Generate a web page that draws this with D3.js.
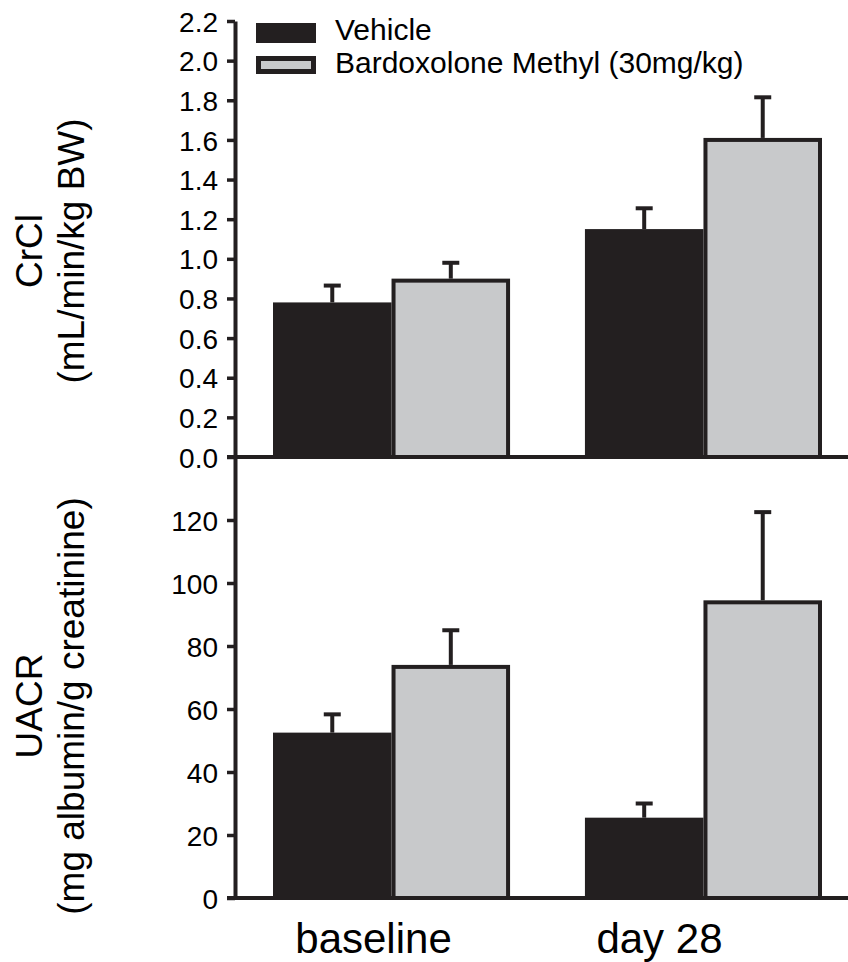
<!DOCTYPE html>
<html>
<head>
<meta charset="utf-8">
<script src="https://cdn.jsdelivr.net/npm/d3@7"></script>
<style>
	body { margin: 0; background: #fff; }
	text { font-family: Arial, "Liberation Sans", sans-serif; fill: #000; }
</style>
</head>
<body>
<div id="chart"></div>
<script>
	const groups = ['baseline', 'day 28'];
	const series = ['Vehicle', 'Bardoxolone Methyl (30mg/kg)'];

	// CrCl (mL/min/kg BW), mean and SEM
	const crclVehicle = [0.78, 1.15];
	const crclVehicleErr = [0.085, 0.105];
	const crclBardox = [0.90, 1.61];
	const crclBardoxErr = [0.08, 0.205];

	// UACR (mg albumin/g creatinine), mean and SEM
	const uacrVehicle = [52.5, 25.5];
	const uacrVehicleErr = [5.8, 4.5];
	const uacrBardox = [74, 94.5];
	const uacrBardoxErr = [11, 28];

	const crclTicks = [0, 0.2, 0.4, 0.6, 0.8, 1.0, 1.2, 1.4, 1.6, 1.8, 2.0, 2.2];
	const uacrTicks = [0, 20, 40, 60, 80, 100, 120];

	const width = 848, height = 962;
	const ink = '#231f20', grey = '#c8c9cb';
	const axisX = 235;

	const svg = d3.select('#chart')
		.append('svg')
		.attr('width', width)
		.attr('height', height);

	//x scales: groups, then the two series inside each group
	const xScale = d3.scaleBand()
		.domain(groups)
		.range([273, 822])
		.paddingInner(0.24)
		.paddingOuter(0);

	const xInner = d3.scaleBand()
		.domain(series)
		.range([0, xScale.bandwidth()]);

	//y scales for the two stacked panels
	const yTop = d3.scaleLinear().domain([0, 2.2]).range([457, 21]);
	const yBottom = d3.scaleLinear().domain([0, 140]).range([898, 457]);

	const panels = [
		{ y: yTop, ticks: crclTicks, fmt: d3.format('.1f'),
			values: [crclVehicle, crclBardox], errs: [crclVehicleErr, crclBardoxErr] },
		{ y: yBottom, ticks: uacrTicks, fmt: d3.format('d'),
			values: [uacrVehicle, uacrBardox], errs: [uacrVehicleErr, uacrBardoxErr] }
	];

	panels.forEach(p => {
		const y0 = p.y(0);

		series.forEach((s, si) => {
			const rows = groups.map((g, gi) => ({ g, v: p.values[si][gi], e: p.errs[si][gi] }));
			const sw = 4;

			//error bars (upper only)
			rows.forEach(d => {
				const cx = xScale(d.g) + xInner(s) + xInner.bandwidth() / 2;
				svg.append('line')
					.attr('x1', cx).attr('x2', cx)
					.attr('y1', p.y(d.v)).attr('y2', p.y(d.v + d.e))
					.attr('stroke', ink).attr('stroke-width', 4);
				svg.append('line')
					.attr('x1', cx - 8.5).attr('x2', cx + 8.5)
					.attr('y1', p.y(d.v + d.e)).attr('y2', p.y(d.v + d.e))
					.attr('stroke', ink).attr('stroke-width', 4);
			});

			svg.selectAll(null)
				.data(rows)
				.enter()
				.append('rect')
				.attr('x', d => xScale(d.g) + xInner(s) + (si ? sw / 2 : 0))
				.attr('width', si ? xInner.bandwidth() - sw : xInner.bandwidth())
				.attr('y', d => p.y(d.v) + (si ? sw / 2 : 0))
				.attr('height', d => y0 - p.y(d.v) - (si ? sw / 2 : 0))
				.style('fill', si ? grey : ink)
				.style('stroke', si ? ink : 'none')
				.style('stroke-width', sw);
		});

		//y axis
		const axis = svg.append('g')
			.attr('transform', `translate(${axisX}, 0)`)
			.call(d3.axisLeft(p.y)
				.tickValues(p.ticks)
				.tickFormat(p.fmt)
				.tickSize(8)
				.tickSizeOuter(0)
				.tickPadding(9));
		axis.select('.domain').attr('stroke', ink).attr('stroke-width', 4);
		axis.selectAll('.tick line').attr('stroke', ink).attr('stroke-width', 3.5);
		axis.selectAll('.tick text')
			.style('font-size', '28px')
			.attr('dy', '0.36em');

		//zero line across the panel
		svg.append('line')
			.attr('x1', axisX - 8).attr('x2', width)
			.attr('y1', y0).attr('y2', y0)
			.attr('stroke', ink).attr('stroke-width', 4);
	});

	//group labels
	const labelShift = [-18, -44];
	svg.selectAll('text.group')
		.data(groups)
		.enter()
		.append('text')
		.attr('class', 'group')
		.attr('x', (d, i) => xScale(d) + xScale.bandwidth() / 2 + labelShift[i])
		.attr('y', 953)
		.style('text-anchor', 'middle')
		.style('font-size', '42px')
		.text(d => d);

	//y titles
	const titles = [
		{ lines: ['CrCl', '(mL/min/kg BW)'], cy: 251 },
		{ lines: ['UACR', '(mg albumin/g creatinine)'], cy: 706 }
	];
	titles.forEach(t => {
		t.lines.forEach((line, i) => {
			svg.append('text')
				.attr('transform', `translate(${42 + i * 42}, ${t.cy}) rotate(-90)`)
				.style('text-anchor', 'middle')
				.style('font-size', '37px')
				.text(line);
		});
	});

	//legend
	const legend = svg.append('g').attr('transform', 'translate(256, 23)');
	legend.append('rect')
		.attr('x', 0).attr('y', 0)
		.attr('width', 60).attr('height', 20)
		.style('fill', ink);
	legend.append('rect')
		.attr('x', 2.5).attr('y', 35.5)
		.attr('width', 55).attr('height', 13)
		.style('fill', grey)
		.style('stroke', ink)
		.style('stroke-width', 5);
	legend.selectAll('text')
		.data(series)
		.enter()
		.append('text')
		.attr('x', 79)
		.attr('y', (d, i) => 17 + i * 33)
		.style('font-size', '30px')
		.text(d => d);
</script>
</body>
</html>
